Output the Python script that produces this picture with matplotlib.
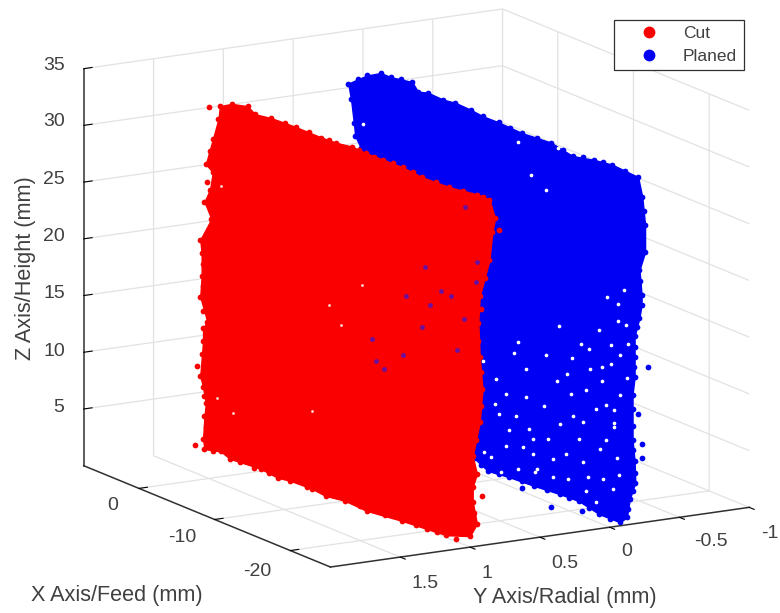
import matplotlib
matplotlib.use("Agg")
import matplotlib.pyplot as plt
from matplotlib.lines import Line2D
from mpl_toolkits.mplot3d.art3d import Poly3DCollection

plt.rcParams['font.family'] = ['Liberation Sans', 'DejaVu Sans']
plt.rcParams['axes.unicode_minus'] = False

x_ticks = [-20, -10, 0]
x_tick_labels = ['-20', '-10', '0']
y_ticks = [-1, -0.5, 0, 0.5, 1, 1.5]
y_tick_labels = ['-1', '-0.5', '0', '0.5', '1', '1.5']
z_ticks = [5, 10, 15, 20, 25, 30, 35]
z_tick_labels = ['5', '10', '15', '20', '25', '30', '35']

# Cut cloud: points round its outline, in the order left, top, right, bottom
cut_x = [5.0, 5.0, 5.0, 5.0, 5.0, 5.0, 5.0, 5.0, 5.0, 5.0, 5.0, 5.0, 5.0, 5.0, 5.0, 5.0, 5.0, 5.0, 5.0, 5.0, 5.0, 5.0, 5.0,
         4.8, 3.6, 1.7, 0.9, -0.9, -2.5, -3.6, -6.4, -8.1, -9.9, -11.4, -13.2, -15.5, -17.7, -20.7, -23.7, -25.1,
         -25.1, -25.1, -25.1, -25.1, -25.1, -25.1, -25.1, -25.1, -25.1, -25.1, -25.1, -25.1, -25.1, -25.1, -25.1, -25.1,
         3.2, 2.0, -1.3, -3.2, -4.7, -7.0, -8.6, -10.6, -13.1, -17.1, -19.8, -22.0]
cut_y = [1.23, 1.16, 1.2, 1.25, 1.2, 1.22, 1.26, 1.21, 1.29, 1.28, 1.28, 1.29, 1.24, 1.27, 1.27, 1.31, 1.29, 1.27, 1.25, 1.26, 1.27, 1.33, 1.26,
         1.16, 1.14, 1.13, 1.12, 1.1, 1.09, 1.07, 1.04, 1.03, 1.01, .99, .97, .95, .93, .9, .86, .85,
         .81, .83, .78, .85, .92, .93, .92, .9, .92, .97, .94, .97, .9, .97, .94, .99,
         1.24, 1.24, 1.2, 1.18, 1.17, 1.14, 1.13, 1.1, 1.08, 1.04, 1.01, .99]
cut_z = [30.9, 29.7, 28, 25.9, 25.1, 23.6, 22.6, 21, 19.3, 18.1, 16.1, 14.3, 12, 11.5, 10.3, 8.2, 7.3, 6.3, 4.8, 3.7, 1.7, 1.3, .8,
         30.9, 31.4, 31.7, 31.2, 31.3, 31.3, 31.2, 31, 31, 31.1, 30.9, 30.8, 30.7, 30.4, 30.3, 30.4, 30.3,
         28.6, 27.4, 27.5, 25, 21.9, 19.6, 16.6, 13.7, 10.8, 7.9, 6.3, 5.2, 4.3, 3.9, 1.9, .9,
         1.05, .73, .69, .38, .5, .38, .17, .24, 0, .13, .11, .13]
# outliers that stay outside the dense body of the Cut cloud
cut_outliers = [0, 15, 21, 42, 52]

# further Cut points between those on the outline
cut_more_x = [5.0, 5.0, 5.0, 5.0, 5.0, 5.0, 5.0, 5.0, 5.0,
              -5, -7.3, -10.6, -12.3, -14.4, -16.6, -19.2, -22.2, -24.4,
              -25.1, -25.1, -25.1, -25.1, -25.1, -25.1, -25.1,
              4.1, 1.1, -.3, -1.9, -6, -11.9, -15, -18.5, -20.9, -23.5]
cut_more_y = [1.22, 1.24, 1.23, 1.27, 1.27, 1.27, 1.28, 1.26, 1.25,
              1.055, 1.035, 1.0, .98, .96, .94, .915, .88, .855,
              .88, .91, .93, .91, .91, .95, .96,
              1.25, 1.22, 1.19, 1.175, 1.12, 1.06, 1.05, 1.02, 1.0, 1.0]
cut_more_z = [27, 24.3, 20, 17.1, 15.2, 13, 9.2, 5.5, 2.7,
              31.1, 31, 31, 30.8, 30.8, 30.6, 30.4, 30.3, 30.4,
              23.5, 20.8, 18, 15.2, 12.2, 9.3, 2.9,
              .9, .7, .5, .45, .25, .1, .1, .1, .1, .2]

# Planed cloud: left, top, right and bottom outline, then outliers
planed_x = [5.0, 5.0, 5.0, 5.0, 5.0, 5.2, 4.7, 3.2, 2.1, 1.0, -0.3, -0.9, -2.0, -3.7, -5.1, -6.8, -8.2, -9.9, -12.4, -15.7, -18.0, -20.5, -22.5,
            -25.0, -25.0, -25.0, -25.0, -25.0, -25.0, -25.0, -25.0, -25.0, -25.0, -25.0, -25.0, -25.0, -25.0, -25.0, -25.0, -25.0, -25.0, -25.0,
            -7.9, -9.6, -11.8, -14.6, -17.4, -19.6, -21.9, 4.0,
            -13.3, -19.0, -21.3, -25.0, -25.0, -25.0, -25.0]
planed_y = [.23, .21, .19, .18, .14, .15, .11, .095, .08, .07, .06, .05, .04, .02, .01, -.01, -.02, -.04, -.07, -.1, -.13, -.15, -.17,
            -.22, -.25, -.27, -.27, -.23, -.245, -.245, -.23, -.195, -.195, -.195, -.18, -.18, -.18, -.195, -.2, -.16, -.14, -.09,
            .03, .02, -.01, -.04, -.07, -.09, -.11, .2,
            -.02, .08, -.02, -.22, -.29, -.245, -.25]
planed_z = [31.2, 29.8, 27.7, 26.5, 25.4, 31.4, 31.8, 32.4, 32.3, 32.4, 32.5, 31.8, 32, 31.8, 31.9, 31.7, 31.5, 31.4, 31.1, 31.1, 30.5, 30.8, 30.9,
            30.4, 28.6, 26.1, 23.7, 22.2, 20, 19.1, 18, 16.4, 14.6, 12.8, 11.3, 8.5, 7.3, 5.4, 3.5, 2.1, .55, .2,
            1.4, .69, .71, .64, .64, .58, .03, 1.1,
            .14, .2, .28, 9.5, 13.5, 6.8, 5.6]

planed_more_x = [-11.1, -14.1, -17, -19.2, -21.5, -23.7,
                 -25, -25, -25, -25, -25, -25, -25, -25, -25, -25, -25,
                 -8.7, -10.7, -13.2, -16, -18.5, -20.7, -23.5]
planed_more_y = [-.055, -.085, -.115, -.14, -.16, -.195,
                 -.26, -.25, -.235, -.21, -.195, -.19, -.185, -.18, -.195, -.18, -.15,
                 .025, 0, -.025, -.055, -.08, -.1, -.1]
planed_more_z = [31.2, 31.1, 30.8, 30.7, 30.9, 30.6,
                 27.3, 25, 21.2, 17.2, 15.5, 13.7, 10, 6.4, 4.4, 2.8, 1.3,
                 1, .7, .7, .64, .6, .3, .1]

# Planed points that show through the Cut cloud
through_x = [-.5, -3.2, -5.4, -7, -2.3, 3, -6.4, 2.5, 1.6, -.4, -2.5, -6.5, -8.1, -8.2, -4.3]
through_y = [.115, .09, .06, .05, .1, .17, .07, .17, .16, .13, .085, .02, .02, .03, .07]
through_z = [13.8, 13.7, 15, 13.4, 11.5, 9.1, 10.6, 7.3, 6.9, 8.6, 16.8, 23.1, 18.7, 17, 15.2]

# small gaps in the Planed cloud
gap_x = [-13, -16.1, -17.4, -19.9, -19.1, -12.6, -17.4, -22.4, -20.7, -21.1, -24.4, -20.5, -23.8, -22.6, -24.4, -23.8, -25, -13.1, -16.1, -12.1, -14, -10.5, -9.8, -14.6, -18.8, -17.4, -20.7, -24.4, -24.7, -22.6, -23.9, -23.9, -19.4, -23.8, -22.2, -15.2, -15.5, -21.1, -24.1, -22.2, -11.8, -14, -10.9, -9.3, 4.2,
         -11.2, -12.4, -13.5, -15.2, -15.7, -16.8, -18, -19.1, -18.5, -20.8, -21.9, -23.2, -23.2, -24.3, -24.7, -25, -21.9, -23, -23.2, -20.2, -19.1, -17.4, -21.3, -23, -14, -11.8, -10.7, -12.1, -16.5, -13.8, -15.4]
gap_y = [-.01, -.04, -.066, -.09, -.07, 0, -.05, -.1, -.08, -.09, -.12, -.07, -.14, -.13, -.15, -.14, -.14, .01, -.03, .03, .01, .05, .06, 0, -.04, -.02, -.06, -.1, -.1, -.08, -.11, -.11, -.06, -.11, -.11, 0, 0, -.06, -.09, -.07, .05, -.01, .03, .04, .17,
         .03, .02, .02, 0, 0, -.02, -.04, -.06, -.06, -.095, -.11, -.12, -.12, -.13, -.15, -.15, -.09, -.1, -.09, -.06, -.04, -.02, -.06, -.08, -.01, .01, .03, -.06, -.11, -.06, -.08]
gap_z = [12.9, 12.6, 15.5, 14.5, 13.1, 11.9, 10.6, 11.9, 10.7, 12.6, 11.2, 7.8, 17.5, 19.3, 20.4, 19, 12.8, 6.5, 8.1, 3.6, 4, 2.2, 2.5, 5.7, 4.6, 3.8, 4.4, 5.7, 4.3, 6, 8.3, 9.8, 8.1, 8.6, 13.1, 5, 2.2, 1.9, 2.9, 1.25, 1.25, 8.4, 9.2, 10.3, 27.8,
         6.2, 5.1, 1.9, 3.7, 2.5, 5.4, 7, 9.9, 11.5, 14.3, 16.3, 15.3, 13.6, 14.7, 17.4, 15.8, 9.3, 10, 7, 6.3, 2.5, 2.2, 3.2, 3.5, 10.8, 8.1, 6.9, 30.2, 30.8, 27.8, 26.9]

# small gaps in the Cut cloud
cut_gap_x = [4.2, 2.5, -8.1, -9.5, -6.2, -11.8, 3.8]
cut_gap_y = [1.21, 1.19, 1.08, 1.07, 1.1, 1.04, 1.21]
cut_gap_z = [5.4, 4.5, 16.8, 15.4, 6.9, 19.5, 24.2]

W, H = 780, 613
S = 776.6
fig = plt.figure(figsize=(W / 100, H / 100), dpi=100, facecolor='white')
ax = fig.add_axes([17.7 / W, -73.8 / H, S / W, S / H], projection='3d',
                  proj_type='ortho', computed_zorder=False)
ax.view_init(elev=14, azim=149.5)
ax.set_box_aspect((487, 487, 410))
ax.set_xlim(-25.3, 7.3)
ax.set_ylim(-1, 2)
ax.set_zlim(0, 35)
ax.patch.set_alpha(0)

# the dense body of each cloud is filled out to its outline points
cut_order = [i for i in list(range(23, 56)) + list(range(67, 55, -1)) + list(range(22, -1, -1)) if i not in cut_outliers]
planed_order = list(range(4, -1, -1)) + list(range(5, 42)) + list(range(48, 41, -1)) + [49]
cut_poly = [(cut_x[i], cut_y[i], cut_z[i]) for i in cut_order]
planed_poly = [(planed_x[i], planed_y[i], planed_z[i]) for i in planed_order]

MS = 17
BLUE, RED = '#0000f5', '#fa0000'
ax.add_collection3d(Poly3DCollection([planed_poly], facecolor=BLUE, edgecolor=BLUE, zorder=2))
ax.scatter(planed_x + planed_more_x, planed_y + planed_more_y, planed_z + planed_more_z,
           s=MS, c=BLUE, depthshade=False, linewidths=0, zorder=3)
ax.scatter(gap_x, gap_y, gap_z, s=7, c='white', depthshade=False, linewidths=0, zorder=4)
ax.add_collection3d(Poly3DCollection([cut_poly], facecolor=RED, edgecolor=RED, zorder=5))
ax.scatter(cut_x + cut_more_x, cut_y + cut_more_y, cut_z + cut_more_z,
           s=MS, c=RED, depthshade=False, linewidths=0, zorder=6)
ax.scatter(cut_gap_x, cut_gap_y, cut_gap_z, s=4, c='#ffd8d8', depthshade=False, linewidths=0, zorder=7)
ax.scatter(through_x, through_y, through_z, s=12, c='#6a10a0', depthshade=False, linewidths=0, zorder=7)

ax.set_xticks(x_ticks)
ax.set_xticklabels([''] * len(x_ticks))
ax.set_yticks(y_ticks)
ax.set_yticklabels([''] * len(y_ticks))
ax.set_zticks(z_ticks)
ax.set_zticklabels([''] * len(z_ticks))
TXT = '#404040'
for axis in (ax.xaxis, ax.yaxis, ax.zaxis):
    axis.set_pane_color((1, 1, 1, 0))
    axis.pane.set_edgecolor('#dedede')
    axis.line.set_color('#303030')
    axis.line.set_linewidth(1.1)
    axis._axinfo['grid'].update(color='#e2e2e2', linewidth=0.9)
    axis._axinfo['tick'].update(inward_factor=0.0, outward_factor=0.25)
    axis._axinfo['tick']['color'] = '#303030'
ax.yaxis._axinfo['tick'].update(inward_factor=0.25, outward_factor=0.0)
ax.zaxis.set_ticks_position('upper')

# tick labels at the places they have in the reference (pixels)
x_label_xy = [(257, 572), (182, 538), (113, 506)]
y_label_xy = [(770, 533), (711, 542), (627, 552), (565, 563), (487, 573), (425, 583)]
z_label_xy = [(59, 408), (54, 351), (54, 294), (54, 236), (54, 179), (54, 122), (54, 66)]
for labels, places in ((x_tick_labels, x_label_xy), (y_tick_labels, y_label_xy), (z_tick_labels, z_label_xy)):
    for txt, (px, py) in zip(labels, places):
        fig.text(px / W, 1 - py / H, txt, fontsize=14, color=TXT, ha='center', va='center')

for txt, px, py, rot in [('X Axis/Feed (mm)', 117, 596, 0), ('Y Axis/Radial (mm)', 565, 597, 0),
                         ('Z Axis/Height (mm)', 26, 268, 90)]:
    fig.text(px / W, 1 - py / H, txt, fontsize=15.6, color=TXT, ha='center', va='center', rotation=rot)

handles = [Line2D([], [], ls='', marker='o', ms=8.5, color=RED, mec='none'),
           Line2D([], [], ls='', marker='o', ms=8.5, color=BLUE, mec='none')]
leg = fig.legend(handles, ['Cut', 'Planed'], loc='lower left',
                 bbox_to_anchor=(614 / W, 1 - 70 / H, 130 / W, 52 / H), bbox_transform=fig.transFigure,
                 fontsize=12.5, fancybox=False, framealpha=1, edgecolor='#303030', borderaxespad=0,
                 labelcolor=TXT, mode='expand', handlelength=3.37, handletextpad=0.27,
                 labelspacing=0.49, borderpad=0.33)
leg.get_frame().set_linewidth(0.9)

fig.savefig('out.png', dpi=100)
